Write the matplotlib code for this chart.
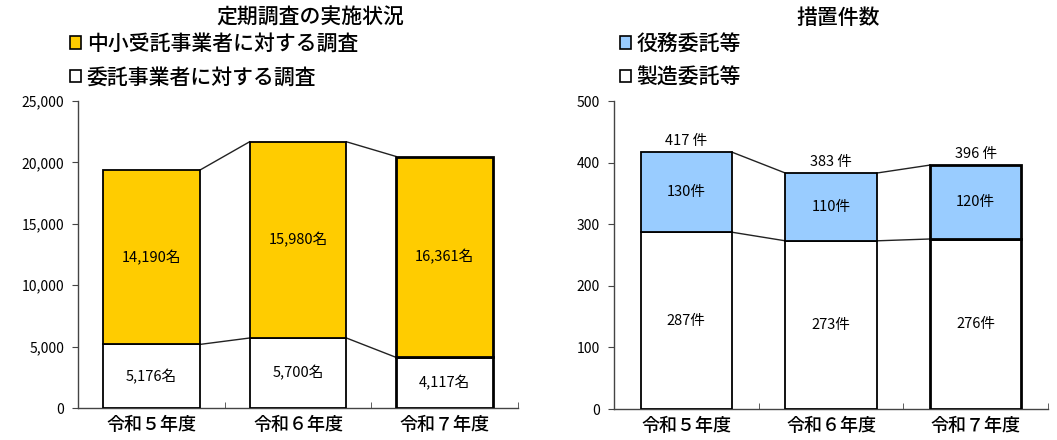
import matplotlib
matplotlib.use("Agg")
import matplotlib.pyplot as plt
from matplotlib.patches import Patch

plt.rcParams['font.family'] = ['Noto Sans CJK JP', 'DejaVu Sans']

# ---- data ----
categories = ['令和５年度', '令和６年度', '令和７年度']

left_title = '定期調査の実施状況'
left_series_names = ['中小受託事業者に対する調査', '委託事業者に対する調査']
left_bottom = [5176, 5700, 4117]      # 委託事業者に対する調査
left_top = [14190, 15980, 16361]      # 中小受託事業者に対する調査
left_yticks = [0, 5000, 10000, 15000, 20000, 25000]

right_title = '措置件数'
right_series_names = ['役務委託等', '製造委託等']
right_bottom = [287, 273, 276]        # 製造委託等
right_top = [130, 110, 120]           # 役務委託等
right_totals = [417, 383, 396]
right_yticks = [0, 100, 200, 300, 400, 500]

GOLD = '#FFCC00'
BLUE = '#99CCFF'

fig = plt.figure(figsize=(10.57, 4.40), dpi=100)
W, H = 1057, 440

def add_ax(x0, x1, y_top, y_bot):
    return fig.add_axes([x0 / W, 1 - y_bot / H, (x1 - x0) / W, (y_bot - y_top) / H])

def draw(ax, bottom, top, color, width, ymax, yticks, fmt, unit, totals=None):
    x = list(range(len(categories)))
    totals_calc = [b + t for b, t in zip(bottom, top)]
    lws = [1.3, 1.3, 2.0]
    for i in x:
        ax.bar(i, bottom[i], width=width, color='white', edgecolor='black', linewidth=lws[i], zorder=3)
        ax.bar(i, top[i], bottom=bottom[i], width=width, color=color, edgecolor='black', linewidth=lws[i], zorder=3)
    # connecting lines
    for i in range(len(x) - 1):
        for lv in (bottom, totals_calc):
            ax.plot([x[i] + width / 2, x[i + 1] - width / 2], [lv[i], lv[i + 1]],
                    color='#222222', linewidth=1.0, zorder=2)
    # labels
    for i in x:
        ax.text(i, bottom[i] / 2, fmt(bottom[i]) + unit, ha='center', va='center', fontsize=10.5,
                zorder=4)
        ax.text(i, bottom[i] + top[i] / 2, fmt(top[i]) + unit, ha='center', va='center', fontsize=10.5,
                zorder=4)
        if totals is not None:
            ax.text(i, totals[i] + ymax * 0.012, fmt(totals[i]) + ' ' + unit, ha='center', va='bottom',
                    fontsize=10.5, zorder=4)
    ax.set_xlim(-0.5, len(x) - 0.5)
    ax.set_ylim(0, ymax)
    ax.set_yticks(yticks)
    ax.set_yticklabels([fmt(v) for v in yticks], fontsize=10)
    ax.set_xticks(x)
    ax.set_xticklabels(categories, fontsize=13, weight='medium')
    ax.tick_params(axis='x', which='major', length=0, pad=6)
    ax.set_xticks([i + 0.5 for i in x], minor=True)
    ax.tick_params(axis='x', which='minor', direction='in', length=4, color='#444444')
    ax.tick_params(axis='y', direction='out', length=4, color='#444444', pad=6)
    for s in ('top', 'right'):
        ax.spines[s].set_visible(False)
    for s in ('left', 'bottom'):
        ax.spines[s].set_color('#444444')
        ax.spines[s].set_linewidth(1.0)

axL = add_ax(78, 518, 101, 408)
draw(axL, left_bottom, left_top, GOLD, 0.66, 25000, left_yticks, lambda v: f'{v:,}', '名')

axR = add_ax(614, 1048, 101, 409)
draw(axR, right_bottom, right_top, BLUE, 0.63, 500, right_yticks, lambda v: f'{v}', '件', totals=right_totals)

fig.text(310 / W, 1 - 18 / H, left_title, ha='center', va='center', fontsize=15, weight='medium')
fig.text(838 / W, 1 - 18 / H, right_title, ha='center', va='center', fontsize=15, weight='medium')

def legend(names, colors, x_px, y_px):
    handles = [Patch(facecolor=c, edgecolor='black', linewidth=1.2) for c in colors]
    fig.legend(handles, names, loc='upper left', bbox_to_anchor=(x_px / W, 1 - y_px / H),
               frameon=False, prop={'weight': 'medium', 'size': 15},
               handlelength=0.55, handleheight=0.55,
               handletextpad=0.25, labelspacing=0.55, borderaxespad=0, borderpad=0)

legend(left_series_names, [GOLD, 'white'], 70, 33)
legend(right_series_names, [BLUE, 'white'], 620, 33)

fig.savefig('out.png', dpi=100)
